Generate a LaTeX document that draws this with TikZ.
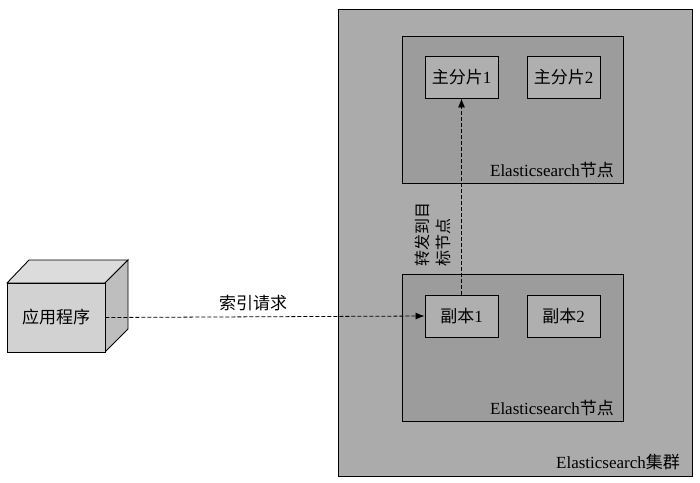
\documentclass[tikz,border=0pt]{standalone}
\usepackage{fontspec}
\setmainfont{Liberation Serif}
\newfontfamily\cjk{Noto Sans CJK SC}
\usetikzlibrary{arrows.meta}
\definecolor{clusterfill}{HTML}{ABABAB}
\definecolor{nodefill}{HTML}{9C9C9C}
\definecolor{shardfill}{HTML}{AFAFAF}
\definecolor{cubefront}{HTML}{D2D2D2}
\definecolor{cubetop}{HTML}{DCDCDC}
\definecolor{cubeside}{HTML}{BEBEBE}
\begin{document}
\begin{tikzpicture}[x=1pt,y=-1pt,
  box/.style={draw=black,line width=0.9pt},
  shard/.style={box,fill=shardfill,minimum width=73pt,minimum height=42pt,inner sep=0pt,font=\fontsize{17}{19}\selectfont},
  lbl/.style={font=\fontsize{17}{19}\selectfont,inner sep=0pt},
  conn/.style={draw=black,line width=0.8pt,dash pattern=on 4pt off 2pt,-{Latex[length=9pt,width=7pt]}}]
\useasboundingbox (0,0) rectangle (700,482);
% cluster
\draw[box,fill=clusterfill] (338,9) rectangle (692,476);
\node[lbl,anchor=south east] (clusterlbl) at (680,470) {Elasticsearch{\cjk 集群}};
% top node
\draw[box,fill=nodefill] (402,36) rectangle (623,183);
\node[lbl,anchor=south east] (toplbl) at (614,178) {Elasticsearch{\cjk 节点}};
\node[shard] (p1) at (461.5,77) {{\cjk 主分片}1};
\node[shard] (p2) at (563.5,77) {{\cjk 主分片}2};
% bottom node
\draw[box,fill=nodefill] (402,274) rectangle (623,421);
\node[lbl,anchor=south east] (botlbl) at (614,416) {Elasticsearch{\cjk 节点}};
\node[shard] (r1) at (461.5,316) {{\cjk 副本}1};
\node[shard] (r2) at (563.5,316) {{\cjk 副本}2};
% cube
\draw[box,fill=cubetop] (7,283) -- (29,260) -- (128,260) -- (105,283) -- cycle;
\draw[box,fill=cubeside] (105,283) -- (128,260) -- (128,329) -- (105,352) -- cycle;
\node[box,fill=cubefront,minimum width=98pt,minimum height=69pt,inner sep=0pt,font=\fontsize{17}{19}\selectfont] (app) at (56,317.5) {\cjk 应用程序};
% connectors
\draw[conn] (app.east) -- (r1.west);
\node[lbl] (reqlbl) at (253,303) {\cjk 索引请求};
\draw[conn] (r1.north) -- (p1.south);
\node[lbl,rotate=90,align=left,font=\fontsize{16}{21}\selectfont] (fwdlbl) at (433,234) {\cjk 转发到目\\\cjk 标节点};
\end{tikzpicture}
\end{document}
